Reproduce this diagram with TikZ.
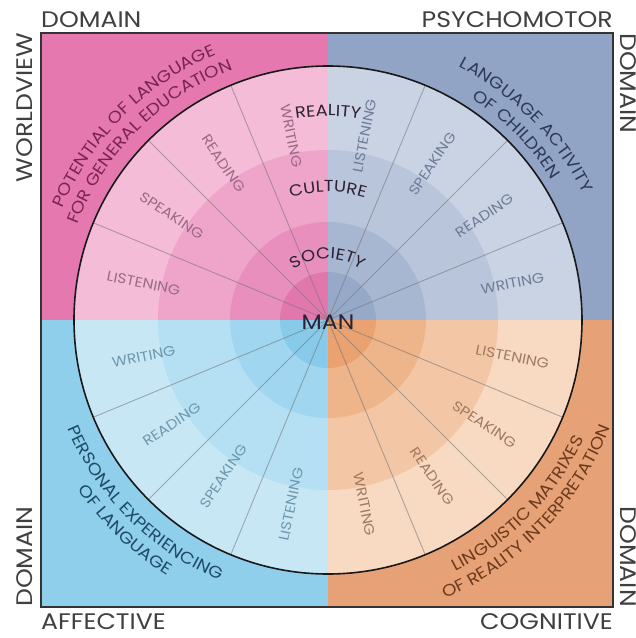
\documentclass[tikz,border=0pt]{standalone}
\usepackage{fontspec}
\setmainfont{Poppins}[FakeStretch=1.12]
\usetikzlibrary{positioning}
\usetikzlibrary{decorations.text}

\definecolor{pinkbg}{HTML}{E678B0}
\definecolor{pinkA}{HTML}{F4BCD7}
\definecolor{pinkB}{HTML}{EEA5C9}
\definecolor{pinkC}{HTML}{E98FBD}
\definecolor{pinkD}{HTML}{E277AE}
\definecolor{pinktxt}{HTML}{9A6A86}
\definecolor{pinkdark}{HTML}{7A2550}
\definecolor{slatebg}{HTML}{91A4C5}
\definecolor{slateA}{HTML}{CAD3E3}
\definecolor{slateB}{HTML}{B9C5DA}
\definecolor{slateC}{HTML}{A8B7D1}
\definecolor{slateD}{HTML}{97A9C8}
\definecolor{slatetxt}{HTML}{6E7D98}
\definecolor{slatedark}{HTML}{2E3B57}
\definecolor{skybg}{HTML}{8FCFEC}
\definecolor{skyA}{HTML}{C8E7F5}
\definecolor{skyB}{HTML}{B5DFF2}
\definecolor{skyC}{HTML}{A0D6EF}
\definecolor{skyD}{HTML}{88CAE9}
\definecolor{skytxt}{HTML}{6F98AE}
\definecolor{skydark}{HTML}{1E4B66}
\definecolor{tanbg}{HTML}{E6A276}
\definecolor{tanA}{HTML}{F8D9C2}
\definecolor{tanB}{HTML}{F3C7A6}
\definecolor{tanC}{HTML}{EEB48A}
\definecolor{tanD}{HTML}{E9A270}
\definecolor{tantxt}{HTML}{A07B62}
\definecolor{tandark}{HTML}{6E3A1C}
\definecolor{ringtxt}{HTML}{2B2233}

\newcommand\domainfont{\fontsize{22.5}{22.5}\selectfont}
\newcommand\arcfont{\fontsize{16.5}{16.5}\selectfont}
\newcommand\ringfont{\fontsize{16}{16}\selectfont}
\newcommand\sectorfont{\fontsize{14}{14}\selectfont}
\newcommand\manfont{\fontsize{21}{21}\selectfont}

\begin{document}
\begin{tikzpicture}[x=1pt, y=1pt,
    domainlabel/.style={text=black!75, font=\domainfont, inner sep=0pt},
    sectortext/.style={font=\sectorfont, inner sep=0pt},
    spoke/.style={draw=black!55, line width=0.9pt, opacity=0.55},
    rim/.style={draw=black!90, line width=1.6pt, circle, minimum size=508pt, inner sep=0pt},
    arcword/.style 2 args={decorate, decoration={text along path, text align=center, text color=#1, text={#2}}}]
\useasboundingbox (-328,-318) rectangle (308,320);
\path node[minimum width=572pt, minimum height=574pt, inner sep=0pt, outer sep=0pt] (frame) at (-1,0) {};
\coordinate (hub) at (0,0);

% quadrants
\fill[slatebg] (hub) rectangle (frame.north east);
\fill[pinkbg] (hub) rectangle (frame.north west);
\fill[skybg] (hub) rectangle (frame.south west);
\fill[tanbg] (hub) rectangle (frame.south east);

% rings
\foreach \a/\hue in {0/slate,90/pink,180/sky,270/tan}{
  \foreach \r/\tone in {254/A,170/B,98/C,48/D}
    \fill[\hue\tone] (hub) -- (\a:\r) arc[start angle=\a, delta angle=90, radius=\r] -- cycle;
}

% spokes
\foreach \ang in {22.5,45,67.5,112.5,135,157.5,202.5,225,247.5,292.5,315,337.5}
  \draw[spoke] (hub) -- (\ang:254);
\node[rim] (wheel) at (hub) {};
\draw[black!80, line width=1.4pt] (frame.south west) rectangle (frame.north east);

% sector labels
\foreach \ang/\rot/\word/\col [count=\i] in {
  11.25/11.25/WRITING/slatetxt, 33.75/33.75/READING/slatetxt, 56.25/56.25/SPEAKING/slatetxt, 78.75/78.75/LISTENING/slatetxt,
  101.25/-78.75/WRITING/pinktxt, 123.75/-56.25/READING/pinktxt, 146.25/-33.75/SPEAKING/pinktxt, 168.75/-11.25/LISTENING/pinktxt,
  191.25/11.25/WRITING/skytxt, 213.75/33.75/READING/skytxt, 236.25/56.25/SPEAKING/skytxt, 258.75/78.75/LISTENING/skytxt,
  281.25/-78.75/WRITING/tantxt, 303.75/-56.25/READING/tantxt, 326.25/-33.75/SPEAKING/tantxt, 348.75/-11.25/LISTENING/tantxt}
  \node[sectortext, text=\col, rotate=\rot] (sector\i) at (\ang:188) {\word};

% ring words
\path[arcword={ringtxt}{|\ringfont|SOCIETY}] (150:61) arc[start angle=150, end angle=30, radius=61];
\path[arcword={ringtxt}{|\ringfont|CULTURE}] (150:128) arc[start angle=150, end angle=30, radius=128];
\path[arcword={ringtxt}{|\ringfont|REALITY}] (150:204) arc[start angle=150, end angle=30, radius=204];
\node[font=\manfont, text=ringtxt, inner sep=0pt] (man) at (0,-2) {MAN};

% outer labels
\path[arcword={pinkdark}{|\arcfont|POTENTIAL OF LANGUAGE}] (180:288) arc[start angle=180, end angle=90, radius=288];
\path[arcword={pinkdark}{|\arcfont|FOR GENERAL EDUCATION}] (180:268) arc[start angle=180, end angle=90, radius=268];
\path[arcword={slatedark}{|\arcfont|LANGUAGE ACTIVITY}] (89:285) arc[start angle=89, end angle=0, radius=285];
\path[arcword={slatedark}{|\arcfont|OF CHILDREN}] (89:264) arc[start angle=89, end angle=0, radius=264];
\path[arcword={skydark}{|\arcfont|PERSONAL EXPERIENCING}] (180:282) arc[start angle=180, end angle=270, radius=282];
\path[arcword={skydark}{|\arcfont|OF LANGUAGE}] (181:302) arc[start angle=181, end angle=271, radius=302];
\path[arcword={tandark}{|\arcfont|LINGUISTIC MATRIXES}] (272:282) arc[start angle=272, end angle=360, radius=282];
\path[arcword={tandark}{|\arcfont|OF REALITY INTERPRETATION}] (272:302) arc[start angle=272, end angle=360, radius=302];

% domains
\node[domainlabel] (dom-tl) [above right=5pt and 0pt of frame.north west] {DOMAIN};
\node[domainlabel] (psychomotor) [above left=5pt and 0pt of frame.north east] {PSYCHOMOTOR};
\node[domainlabel] (affective) [below right=6pt and 0pt of frame.south west] {AFFECTIVE};
\node[domainlabel] (cognitive) [below left=6pt and 0pt of frame.south east] {COGNITIVE};
\node[domainlabel, rotate=90, anchor=south east] (worldview) at ([xshift=-8pt]frame.north west) {WORLDVIEW};
\node[domainlabel, rotate=-90, anchor=south west] (dom-tr) at ([xshift=7pt]frame.north east) {DOMAIN};
\node[domainlabel, rotate=90, anchor=south west] (dom-bl) at ([xshift=-8pt]frame.south west) {DOMAIN};
\node[domainlabel, rotate=-90, anchor=south east] (dom-br) at ([xshift=7pt]frame.south east) {DOMAIN};
\end{tikzpicture}
\end{document}
